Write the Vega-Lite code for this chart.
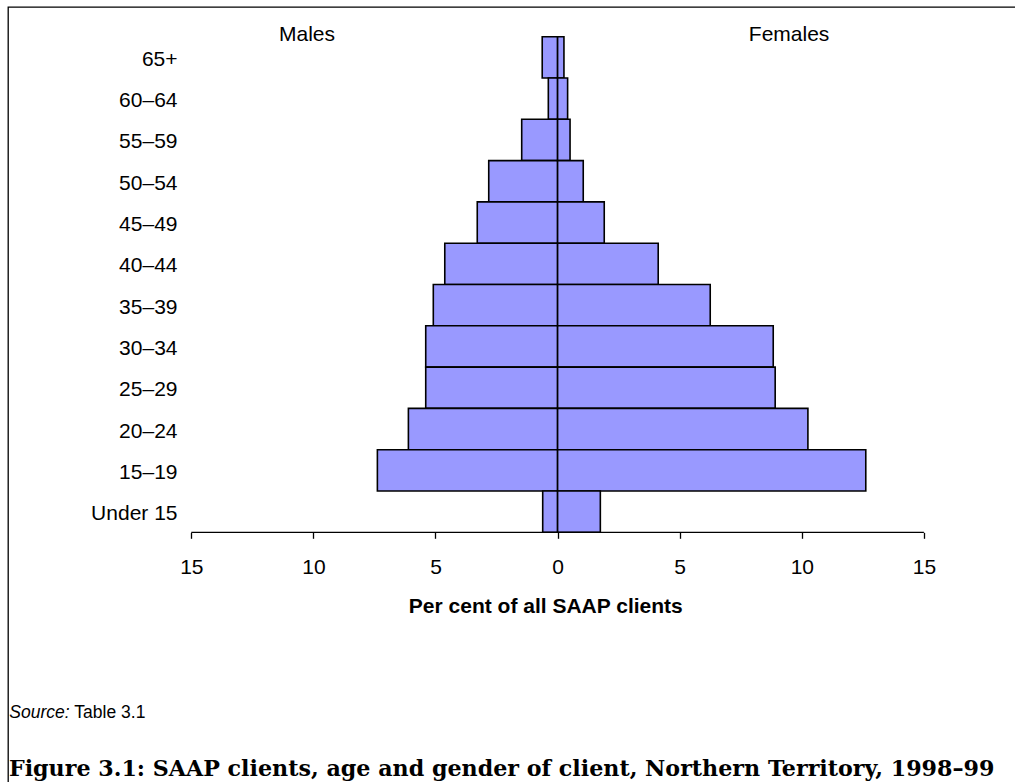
{
  "$schema": "https://vega.github.io/schema/vega-lite/v6.json",
  "width": 1015,
  "height": 782,
  "autosize": {"type": "none"},
  "padding": {"left": 8, "top": 7, "right": 0, "bottom": 0},
  "background": "white",
  "config": {
    "view": {"stroke": "black", "strokeWidth": 1.3},
    "font": "Liberation Sans",
    "text": {"font": "Liberation Sans", "color": "black"}
  },
  "layer": [
    {
      "data": {
        "values": [
          {"age": "65+", "sex": "Males", "percent": -0.63},
          {"age": "60–64", "sex": "Males", "percent": -0.38},
          {"age": "55–59", "sex": "Males", "percent": -1.47},
          {"age": "50–54", "sex": "Males", "percent": -2.82},
          {"age": "45–49", "sex": "Males", "percent": -3.29},
          {"age": "40–44", "sex": "Males", "percent": -4.62},
          {"age": "35–39", "sex": "Males", "percent": -5.09},
          {"age": "30–34", "sex": "Males", "percent": -5.4},
          {"age": "25–29", "sex": "Males", "percent": -5.4},
          {"age": "20–24", "sex": "Males", "percent": -6.11},
          {"age": "15–19", "sex": "Males", "percent": -7.38},
          {"age": "Under 15", "sex": "Males", "percent": -0.61},
          {"age": "65+", "sex": "Females", "percent": 0.26},
          {"age": "60–64", "sex": "Females", "percent": 0.41},
          {"age": "55–59", "sex": "Females", "percent": 0.51},
          {"age": "50–54", "sex": "Females", "percent": 1.05},
          {"age": "45–49", "sex": "Females", "percent": 1.91},
          {"age": "40–44", "sex": "Females", "percent": 4.12},
          {"age": "35–39", "sex": "Females", "percent": 6.25},
          {"age": "30–34", "sex": "Females", "percent": 8.83},
          {"age": "25–29", "sex": "Females", "percent": 8.91},
          {"age": "20–24", "sex": "Females", "percent": 10.25},
          {"age": "15–19", "sex": "Females", "percent": 12.62},
          {"age": "Under 15", "sex": "Females", "percent": 1.75}
        ]
      },
      "mark": {"type": "bar", "fill": "#9999FF", "stroke": "black", "strokeWidth": 1.6},
      "encoding": {
        "y": {
          "field": "age",
          "type": "nominal",
          "sort": ["65+", "60–64", "55–59", "50–54", "45–49", "40–44", "35–39", "30–34", "25–29", "20–24", "15–19", "Under 15"],
          "scale": {"paddingInner": 0, "paddingOuter": 0, "range": [29.7, 525.3]},
          "axis": {
            "title": null,
            "domain": false,
            "ticks": false,
            "tickSize": 0,
            "labelPadding": 0,
            "offset": -169,
            "labelOffset": 2.5,
            "labelFont": "Liberation Sans",
            "labelFontSize": 21,
            "labelColor": "black",
            "labelAlign": "right",
            "labelBaseline": "middle"
          }
        },
        "x": {
          "field": "percent",
          "type": "quantitative",
          "scale": {"domain": [-22.506, 19.058], "nice": false, "zero": false},
          "axis": {
            "values": [-15, -10, -5, 0, 5, 10, 15],
            "labelExpr": "abs(datum.value)",
            "offset": -256.7,
            "domain": false,
            "grid": false,
            "tickSize": 6,
            "tickColor": "black",
            "tickWidth": 1.3,
            "labelFont": "Liberation Sans",
            "labelFontSize": 21,
            "labelColor": "black",
            "labelPadding": 18.5,
            "title": "Per cent of all SAAP clients",
            "titleFont": "Liberation Sans",
            "titleFontSize": 21,
            "titleFontWeight": "bold",
            "titleColor": "black",
            "titleBaseline": "middle",
            "titleAlign": "center",
            "titleX": 537.3,
            "titleY": 73.7
          }
        }
      }
    },
    {
      "data": {"values": [{}]},
      "mark": {"type": "rule", "color": "black", "strokeWidth": 1.3},
      "encoding": {
        "x": {"datum": -15},
        "x2": {"datum": 15},
        "y": {"datum": "Under 15", "bandPosition": 1}
      }
    },
    {
      "data": {"values": [{}]},
      "mark": {"type": "text", "fontSize": 21, "align": "center", "baseline": "middle", "dy": -1.5},
      "encoding": {
        "x": {"datum": -10.26},
        "y": {"datum": "65+", "bandPosition": 0},
        "text": {"value": "Males"}
      }
    },
    {
      "data": {"values": [{}]},
      "mark": {"type": "text", "fontSize": 21, "align": "center", "baseline": "middle", "dy": -1.5},
      "encoding": {
        "x": {"datum": 9.48},
        "y": {"datum": "65+", "bandPosition": 0},
        "text": {"value": "Females"}
      }
    },
    {
      "data": {"values": [{}]},
      "mark": {"type": "text", "fontSize": 17.5, "fontStyle": "italic", "align": "left", "baseline": "middle", "dy": 180.5},
      "encoding": {
        "x": {"datum": -22.45},
        "y": {"datum": "Under 15", "bandPosition": 1},
        "text": {"value": "Source:"}
      }
    },
    {
      "data": {"values": [{}]},
      "mark": {"type": "text", "fontSize": 17.5, "align": "left", "baseline": "middle", "dy": 180.5, "dx": 65},
      "encoding": {
        "x": {"datum": -22.45},
        "y": {"datum": "Under 15", "bandPosition": 1},
        "text": {"value": "Table 3.1"}
      }
    },
    {
      "data": {"values": [{}]},
      "mark": {"type": "text", "font": "DejaVu Serif", "fontSize": 22.2, "fontWeight": "bold", "align": "left", "baseline": "middle", "dy": 237},
      "encoding": {
        "x": {"datum": -22.47},
        "y": {"datum": "Under 15", "bandPosition": 1},
        "text": {"value": "Figure 3.1: SAAP clients, age and gender of client, Northern Territory, 1998–99"}
      }
    }
  ]
}
